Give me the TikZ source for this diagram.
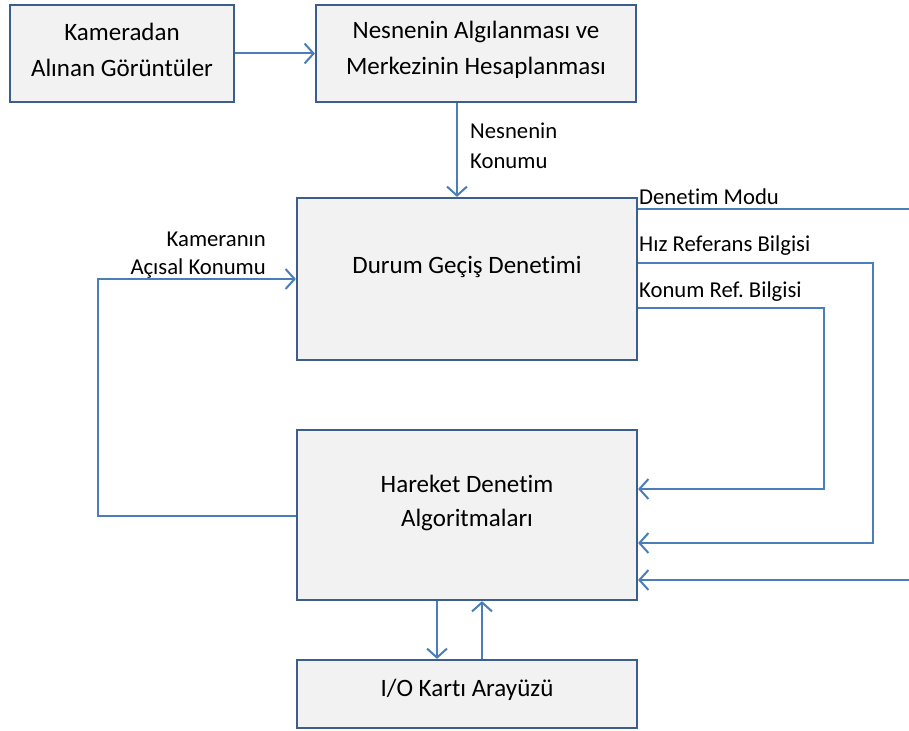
\documentclass[tikz,border=0pt]{standalone}
\usepackage{fontspec}
\setmainfont[Ligatures=NoCommon]{Carlito}
\frenchspacing
\usetikzlibrary{arrows.meta}
\definecolor{boxline}{HTML}{3B5E8C}
\definecolor{boxfill}{HTML}{F2F2F2}
\definecolor{wire}{HTML}{4A7EBB}
\begin{document}
\begin{tikzpicture}[x=1pt,y=-1pt,
  blk/.style={draw=boxline, fill=boxfill, line width=2.2pt, inner sep=0pt},
  txt/.style={inner sep=0pt, align=center, font=\fontsize{25}{36}\selectfont},
  lbl/.style={inner sep=0pt, font=\fontsize{22.7}{30}\selectfont},
  wire/.style={draw=wire, line width=2pt},
  flow/.style={wire, -{Straight Barb[length=9pt,width=20pt,line width=2pt]}}]
\useasboundingbox[fill=white] (0,0) rectangle (909,730);

% blocks and their captions
\node[blk, minimum width=224pt, minimum height=97pt] (kamera) at (122,53.5) {};
\node[txt] (kameratxt) at (122,50) {Kameradan\\Alınan Görüntüler};
\node[blk, minimum width=320pt, minimum height=97pt] (nesne) at (476,53.5) {};
\node[txt] (nesnetxt) at (476,50) {Nesnenin Algılanması ve\\Merkezinin Hesaplanması};
\node[blk, minimum width=340pt, minimum height=162pt] (durum) at (467,279) {};
\node[txt] (durumtxt) at (467,267) {Durum Geçiş Denetimi};
\node[blk, minimum width=340pt, minimum height=170pt] (hareket) at (467,515) {};
\node[txt, font=\fontsize{25}{34}\selectfont] (harekettxt) at (467,503) {Hareket Denetim\\Algoritmaları};
\node[blk, minimum width=340pt, minimum height=68pt] (io) at (467,694) {};
\node[txt] (iotxt) at (467,690) {I/O Kartı Arayüzü};

% signal labels
\node[lbl, anchor=west, align=left] (konumlbl) at (470,146) {Nesnenin\\Konumu};
\node[lbl, anchor=east, align=right, font=\fontsize{22.7}{28}\selectfont] (acilbl) at (266,255) {Kameranın\\Açısal Konumu};
\node[lbl, anchor=west] (modlbl) at (639,197) {Denetim Modu};
\node[lbl, anchor=west] (hizlbl) at (639,246) {Hız Referans Bilgisi};
\node[lbl, anchor=west] (reflbl) at (639,292) {Konum Ref. Bilgisi};

% free ends of the open lines
\coordinate (modEnd) at (909,209);
\coordinate (extIn) at (909,580);

% connectors
\draw[flow] (kamera.east) -- (nesne.west);
\draw[flow] (nesne.south -| 457,0) -- (durum.north -| 457,0);
\draw[flow] (hareket.west |- 0,516) -- (98,516) -- (98,279) -- (durum.west);
\draw[wire] (durum.east |- modEnd) -- (modEnd);
\draw[flow] (durum.east |- 0,263) -- (873,263) -- (873,543) -- (hareket.east |- 0,543);
\draw[flow] (durum.east |- 0,308) -- (824,308) -- (824,489) -- (hareket.east |- 0,489);
\draw[flow] (extIn) -- (hareket.east |- extIn);
\draw[flow] (hareket.south -| 437,0) -- (io.north -| 437,0);
\draw[flow] (io.north -| 482,0) -- (hareket.south -| 482,0);
\end{tikzpicture}
\end{document}
